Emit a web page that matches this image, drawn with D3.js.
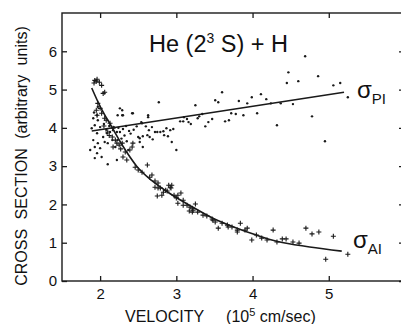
<!DOCTYPE html>
<html>
<head>
<meta charset="utf-8">
<script src="https://cdn.jsdelivr.net/npm/d3@7"></script>
<style>
  body { margin: 0; background: #fff; }
  text { font-family: "Liberation Sans", "DejaVu Sans", sans-serif; fill: #111; }
</style>
</head>
<body>
<div id="chart"></div>
<script>
//--------------------------------------------------------------------------------
// values
var xTicks = [2, 3, 4, 5];
var yTicks = [0, 1, 2, 3, 4, 5, 6];

// sigma_PI measured points (dots): [velocity, cross section]
var piPoints = [
  [2.77,4.67],[3.25,4.59],[3.60,4.93],[3.51,4.72],[3.55,4.67],[3.82,4.70],[3.93,4.64],
  [3.99,4.80],[4.11,4.88],[4.18,4.75],[4.24,4.64],[4.06,4.38],[4.32,4.07],[3.72,4.38],
  [3.78,4.36],[3.88,4.33],[3.64,4.17],[3.69,4.20],[3.47,4.23],[3.42,4.15],[3.38,4.04],
  [3.28,4.25],[3.30,4.30],[3.34,4.36],[3.19,4.10],[3.16,4.15],[3.14,4.23],[3.10,4.28],
  [3.05,4.17],[3.09,4.17],[2.83,3.91],[2.87,3.99],[2.84,3.81],[2.89,3.78],[2.92,3.94],
  [2.96,3.97],[2.94,3.63],[3.00,3.42],[4.69,5.87],[4.47,5.45],[4.45,5.17],[4.60,5.22],
  [4.86,5.35],[5.06,5.11],[5.15,5.17],[5.25,4.80],[4.37,4.64],[4.53,4.62],[4.78,4.30],
  [4.95,3.65],
  [2.26,4.51],[2.43,4.38],[2.63,4.33],[2.23,4.33],[2.29,4.33],[2.54,4.15],[2.48,4.04],
  [2.60,4.04],[2.64,3.94],[2.65,3.76],[2.69,3.70],[2.75,3.89],[2.79,3.89],[2.52,3.73],
  [2.56,3.78],[2.10,3.05],[2.63,4.28],[2.55,4.12],[2.68,4.02],[2.72,3.89],[2.62,3.81],
  [2.50,3.76],[2.52,3.63],[2.56,3.50],[2.37,3.42],
  [1.91,4.25],[1.96,4.33],[1.97,4.20],[1.93,4.07],[1.89,3.99],[2.00,4.02],[1.96,3.86],
  [1.91,3.68],[1.97,3.60],[1.93,3.50],[2.00,3.47],[2.04,3.76],[2.09,3.86],[2.13,3.89],
  [2.17,3.94],[2.22,3.89],[2.26,3.89],[2.06,3.63],[2.10,3.60],[2.16,3.68],[2.20,3.50],
  [2.23,3.68],[2.29,4.46],[2.30,4.33],[1.96,3.34],[2.02,3.24],[2.22,3.16],[2.42,4.38],
  [1.87,3.42],[1.93,3.21],[1.97,4.55],[1.92,4.40],[2.05,4.10],[2.08,3.95],[2.12,4.05],
  [2.18,4.02],[2.24,4.00],[2.30,3.97],[2.34,4.05],[2.38,3.92],[2.32,3.80],[2.40,3.85],
  [2.44,3.95],[2.28,3.72],[2.35,3.65]
];

// sigma_AI measured points (crosses)
var aiPoints = [
  [1.93,5.24],[1.96,5.27],[1.92,5.17],[1.99,5.19],[1.95,5.22],[2.02,5.11],[2.04,4.90],
  [2.06,4.93],[1.97,4.64],[2.00,4.51],[1.95,4.46],[2.02,4.38],[1.96,4.33],[2.06,4.25],
  [2.13,4.12],[2.17,3.99],[2.10,3.89],[2.16,3.76],[2.20,3.68],[2.22,3.60],[2.17,3.50],
  [2.29,3.60],[2.33,3.37],[2.30,3.24],[2.35,3.16],[2.39,3.42],[2.43,3.60],[2.42,3.50],
  [2.08,4.20],[2.12,3.80],[2.25,3.55],[2.27,3.45],[2.05,4.05],
  [2.46,2.97],[2.50,2.90],[2.55,2.84],[2.62,3.03],[2.65,2.71],[2.68,2.77],[2.72,2.61],
  [2.76,2.56],[2.79,2.43],[2.72,2.45],[2.76,2.43],[2.75,2.22],[2.81,2.24],[2.83,2.32],
  [2.86,2.37],[2.88,2.35],[2.90,2.50],[2.92,2.45],[2.93,2.43],[2.94,2.50],[2.97,2.24],
  [3.00,2.17],[3.02,2.24],[3.06,2.30],[3.02,2.03],[3.09,2.11],[3.09,1.98],[3.14,1.98],
  [3.17,1.83],[3.18,1.93],[3.21,1.90],[3.21,1.80],[3.25,2.01],[3.22,1.85],[3.28,1.80],
  [3.35,1.72],[3.40,1.70],[3.47,1.62],[3.48,1.59],[3.51,1.54],[3.55,1.38],[3.60,1.51],
  [3.67,1.46],[3.68,1.41],[3.73,1.41],[3.80,1.28],[3.84,1.51],[3.80,1.33],[3.90,1.33],
  [3.93,1.38],[3.99,1.07],[4.05,1.20],[4.12,1.12],[4.19,1.07],[4.27,1.33],[4.32,1.02],
  [4.39,1.10],[4.44,1.10],[4.53,1.02],[4.61,0.99],[4.70,1.38],[4.78,1.23],[4.87,1.28],
  [5.06,1.17],[4.96,0.57],[5.25,0.70]
];

// fitted lines drawn through the data
var piFit = [[1.89,3.92],[5.20,4.93]];
var aiFit = [
  [1.89,5.04],[2.00,4.56],[2.16,4.00],[2.30,3.52],[2.48,3.00],[2.68,2.62],[2.92,2.28],
  [3.18,1.97],[3.48,1.64],[3.77,1.40],[4.05,1.20],[4.33,1.03],[4.75,0.89],[5.17,0.78]
];

//--------------------------------------------------------------------------------
var width = 401, height = 324;
var plotLeft = 62, plotRight = 405, plotTop = 13, plotBottom = 281;

var svg = d3.select("#chart").append("svg")
    .attr("width", width)
    .attr("height", height);

var xScale = d3.scaleLinear().domain([1.5, 6]).range([plotLeft, plotRight]);
var yScale = d3.scaleLinear().domain([0, 7]).range([plotBottom, plotTop]);

var ink = "#1a1a1a";

  // frame + inward ticks on all four sides
svg.append("rect")
   .attr("x", plotLeft).attr("y", plotTop)
   .attr("width", plotRight - plotLeft).attr("height", plotBottom - plotTop)
   .attr("fill", "none").attr("stroke", ink).attr("stroke-width", 1.4);

function styleAxis(g) {
   g.select(".domain").remove();
   g.selectAll("line").attr("stroke", ink).attr("stroke-width", 1.3);
   g.selectAll("text").style("font-size", "15px").attr("fill", "#111");
}

svg.append("g")
   .attr("transform", "translate(0," + plotBottom + ")")
   .call(d3.axisBottom(xScale).tickValues(xTicks).tickSize(-5).tickPadding(7).tickFormat(d3.format("d")))
   .call(styleAxis);

svg.append("g")
   .attr("transform", "translate(0," + plotTop + ")")
   .call(d3.axisTop(xScale).tickValues(xTicks).tickSize(-5).tickFormat(""))
   .call(styleAxis);

svg.append("g")
   .attr("transform", "translate(" + plotLeft + ",0)")
   .call(d3.axisLeft(yScale).tickValues(yTicks).tickSize(-5).tickPadding(5).tickFormat(d3.format("d")))
   .call(styleAxis);

svg.append("g")
   .attr("transform", "translate(" + plotRight + ",0)")
   .call(d3.axisRight(yScale).tickValues(yTicks).tickSize(-6).tickFormat(""))
   .call(styleAxis);

  // fitted curves
var line = d3.line()
   .x(function(d){ return xScale(d[0]); })
   .y(function(d){ return yScale(d[1]); });

svg.append("path")
   .datum(piFit)
   .attr("d", line)
   .attr("fill", "none").attr("stroke", ink).attr("stroke-width", 1.6);

svg.append("path")
   .datum(aiFit)
   .attr("d", line.curve(d3.curveMonotoneX))
   .attr("fill", "none").attr("stroke", ink).attr("stroke-width", 1.6);

  // data points
svg.append("g").selectAll("circle")
   .data(piPoints)
   .enter()
   .append("circle")
   .attr("cx", function(d){ return xScale(d[0]); })
   .attr("cy", function(d){ return yScale(d[1]); })
   .attr("r", 1.2)
   .attr("fill", ink);

svg.append("g").selectAll("path")
   .data(aiPoints)
   .enter()
   .append("path")
   .attr("transform", function(d){ return "translate(" + xScale(d[0]) + "," + yScale(d[1]) + ")"; })
   .attr("d", "M-2.5,0H2.5M0,-2.5V2.5")
   .attr("stroke", ink).attr("stroke-width", 1.1);

  // title and curve labels
var title = svg.append("text")
   .attr("x", 149).attr("y", 52)
   .style("font-size", "23.5px");
title.append("tspan").text("He (2");
title.append("tspan").attr("dy", -9).style("font-size", "14px").text("3");
title.append("tspan").attr("dy", 9).text(" S) + H");

var lblPI = svg.append("text").attr("x", 357).attr("y", 98).style("font-size", "24px");
lblPI.append("tspan").text("σ");
lblPI.append("tspan").attr("dy", 6).style("font-size", "15px").text("PI");

var lblAI = svg.append("text").attr("x", 353).attr("y", 248).style("font-size", "24px");
lblAI.append("tspan").text("σ");
lblAI.append("tspan").attr("dy", 6).style("font-size", "15px").text("AI");

  // axis titles
var xTitle = svg.append("text")
   .attr("x", 125).attr("y", 322)
   .style("font-size", "16px")
   .attr("xml:space", "preserve");
xTitle.append("tspan").text("VELOCITY     (10");
xTitle.append("tspan").attr("dy", -6).style("font-size", "11px").text("5");
xTitle.append("tspan").attr("dy", 6).text(" cm/sec)");

svg.append("text")
   .attr("transform", "translate(27,156) rotate(-90)")
   .attr("text-anchor", "middle")
   .style("font-size", "16px")
   .style("word-spacing", "5px")
   .text("CROSS SECTION (arbitrary units)");
</script>
</body>
</html>
